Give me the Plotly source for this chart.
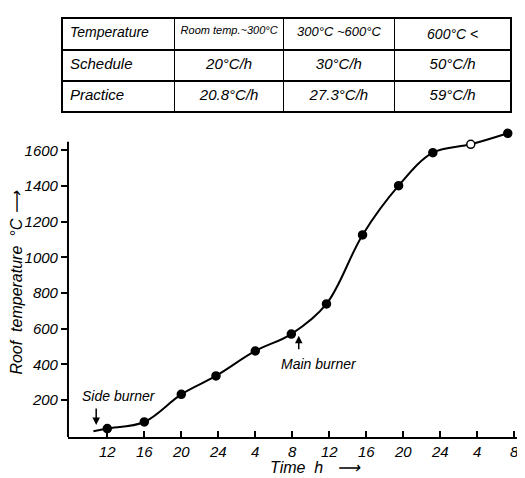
import plotly.graph_objects as go

# ---- data ----
# time axis: hours elapsed since the first "12" tick
tick_hours = [0, 4, 8, 12, 16, 20, 24, 28, 32, 36, 40, 44]
tick_labels = ["12", "16", "20", "24", "4", "8", "12", "16", "20", "24", "4", "8"]

curve_hours = [-1.5, 0, 4, 8, 11.75, 16, 19.9, 23.7, 27.6, 31.5, 35.2, 39.3, 43.3]
roof_temp = [25, 40, 77, 232, 335, 475, 570, 739, 1126, 1402, 1587, 1634, 1696]
marker_kind = ["none", "filled", "filled", "filled", "filled", "filled", "filled",
               "filled", "filled", "filled", "filled", "open", "filled"]

y_ticks = [200, 400, 600, 800, 1000, 1200, 1400, 1600]

table_header = ["Temperature", "Room\u00a0temp.~300°C", "300°C ~600°C", "600°C <"]
row_names = ["Schedule", "Practice"]
schedule_rate = ["20°C/h", "30°C/h", "50°C/h"]
practice_rate = ["20.8°C/h", "27.3°C/h", "59°C/h"]

# annotations (time h, temperature)
side_burner = (-1.2, 60)
main_burner = (20.7, 560)

FONT = "Liberation Sans"

sizes = [0 if k == "none" else 8 for k in marker_kind]
fills = ["white" if k == "open" else "black" for k in marker_kind]

fig = go.Figure()

fig.add_trace(go.Scatter(
    x=curve_hours, y=roof_temp, mode="lines+markers",
    line=dict(color="black", width=2, shape="spline", smoothing=1.0),
    marker=dict(size=sizes, color=fills, opacity=1, line=dict(color="black", width=1.5)),
    cliponaxis=False, showlegend=False, hoverinfo="x+y",
))

cell_cols = [row_names] + [[s, p] for s, p in zip(schedule_rate, practice_rate)]
fig.add_trace(go.Table(
    domain=dict(x=[0, 0.978], y=[0.76, 1.0]),
    columnwidth=[113, 109, 111, 117],
    header=dict(
        values=table_header,
        align=["left", "center", "center", "center"],
        font=dict(family=FONT, size=[14, 11, 13, 14], color="black", style="italic"),
        line=dict(color="black", width=1.5),
        fill=dict(color="white"),
        height=31,
    ),
    cells=dict(
        values=cell_cols,
        align=["left", "center", "center", "center"],
        font=dict(family=FONT, size=15, color="black", style="italic"),
        line=dict(color="black", width=1.5),
        fill=dict(color="white"),
        height=31,
    ),
))

# y axis line (stops near the top tick, the curve continues above it)
fig.add_shape(type="line", xref="x domain", yref="y", x0=0, x1=0, y0=-7.3, y1=1649,
              line=dict(color="black", width=2))

fig.add_annotation(x=side_burner[0], y=side_burner[1], xref="x", yref="y",
                   text="", showarrow=True, arrowhead=2, arrowsize=1, arrowwidth=1.5,
                   arrowcolor="black", ax=0, ay=-18)
fig.add_annotation(x=side_burner[0] + 2.5, y=side_burner[1] + 163, xref="x", yref="y",
                   text="Side burner", showarrow=False,
                   font=dict(family=FONT, size=14, color="black", style="italic"))
fig.add_annotation(x=main_burner[0], y=main_burner[1], xref="x", yref="y",
                   text="", showarrow=True, arrowhead=2, arrowsize=1, arrowwidth=1.5,
                   arrowcolor="black", ax=0, ay=15)
fig.add_annotation(x=main_burner[0] + 2.2, y=main_burner[1] - 160, xref="x", yref="y",
                   text="Main burner", showarrow=False,
                   font=dict(family=FONT, size=14, color="black", style="italic"))

# x axis title, placed right of centre as in the reference
fig.add_annotation(x=0.546, y=-0.10, xref="x domain", yref="y domain",
                   xanchor="center", yanchor="middle",
                   text="Time  h   \u27f6", showarrow=False,
                   font=dict(family=FONT, size=16, color="black", style="italic"))

# the page body adds an 8 px offset, so the figure is 8 px smaller on each axis
fig.update_layout(
    width=517, height=470,
    margin=dict(l=54, r=3, t=10, b=41, autoexpand=False),
    paper_bgcolor="white", plot_bgcolor="white",
    font=dict(family=FONT, color="black", style="italic"),
    xaxis=dict(
        domain=[0.013, 1], range=[-4.25, 44.84], automargin=False,
        tickvals=tick_hours, ticktext=tick_labels,
        ticks="inside", ticklen=6, tickwidth=1.5, tickcolor="black",
        showline=True, linecolor="black", linewidth=2,
        showgrid=False, zeroline=False,
        tickfont=dict(family=FONT, size=15, style="italic"),
    ),
    yaxis=dict(
        domain=[0, 0.7351], range=[-7.3, 1720], automargin=False,
        tickvals=y_ticks,
        ticks="outside", ticklen=6, tickwidth=1.5, tickcolor="black",
        showline=False, showgrid=False, zeroline=False,
        tickfont=dict(family=FONT, size=15, style="italic"),
        title=dict(text="Roof  temperature  °C \u27f6", standoff=4,
                   font=dict(family=FONT, size=16, style="italic")),
    ),
)

fig.write_html("out.html")
